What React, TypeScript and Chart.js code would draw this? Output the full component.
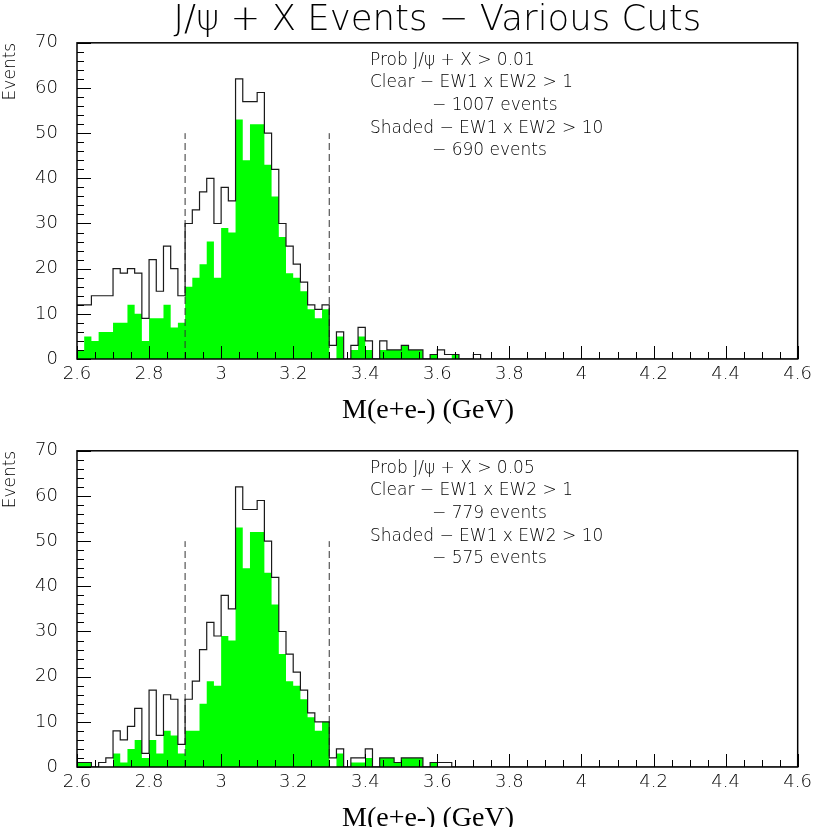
import React, { useEffect, useRef } from 'react';
import { Chart, registerables } from 'chart.js';

Chart.register(...registerables);

// ---- Data -------------------------------------------------------------
const BIN_START = 2.6;
const BIN_WIDTH = 0.02;
const X_MIN = 2.6;
const X_MAX = 4.6;
const X_LABEL_STEP = 0.2;
const X_MINOR_STEP = 0.05;
const Y_MIN = 0;
const Y_MAX = 70;
const Y_LABEL_STEP = 10;
const Y_MINOR_STEP = 2;
const CUT_LOW = 2.9;
const CUT_HIGH = 3.3;
const CUT_HEIGHT = 50;

const topClear = [
  12, 12, 14, 14, 14, 20, 19, 20, 19, 9,
  22, 15, 25, 20, 14, 30, 33, 37, 40, 30,
  38, 35, 62, 57, 57, 59, 50, 42, 30, 25,
  21, 17, 12, 11, 12, 3, 6, 0, 3, 7,
  4, 0, 4, 2, 2, 3, 2, 2, 0, 1,
  2, 1, 1, 0, 0, 1, 0, 0, 0, 0,
  0, 0, 0, 0, 0, 0, 0, 0, 0, 0,
  0, 0, 0, 0, 0, 0, 0, 0, 0, 0,
  0, 0, 0, 0, 0, 0, 0, 0, 0, 0,
  0, 0, 0, 0, 0, 0, 0, 0, 0, 0,
];
const topShaded = [
  2, 5, 4, 6, 6, 8, 8, 12, 10, 4,
  9, 9, 12, 7, 8, 16, 18, 21, 26, 18,
  29, 28, 53, 44, 52, 52, 43, 36, 27, 19,
  18, 15, 11, 9, 11, 0, 5, 0, 2, 5,
  2, 0, 2, 2, 2, 3, 2, 2, 0, 1,
  0, 0, 1, 0, 0, 0, 0, 0, 0, 0,
  0, 0, 0, 0, 0, 0, 0, 0, 0, 0,
  0, 0, 0, 0, 0, 0, 0, 0, 0, 0,
  0, 0, 0, 0, 0, 0, 0, 0, 0, 0,
  0, 0, 0, 0, 0, 0, 0, 0, 0, 0,
];
const bottomClear = [
  1, 1, 0, 1, 2, 8, 6, 9, 13, 3,
  17, 7, 16, 15, 5, 15, 19, 26, 32, 29,
  38, 35, 62, 57, 57, 59, 50, 42, 30, 25,
  21, 17, 12, 10, 10, 2, 4, 0, 2, 2,
  4, 0, 2, 2, 1, 2, 2, 2, 0, 1,
  1, 1, 0, 0, 0, 0, 0, 0, 0, 0,
  0, 0, 0, 0, 0, 0, 0, 0, 0, 0,
  0, 0, 0, 0, 0, 0, 0, 0, 0, 0,
  0, 0, 0, 0, 0, 0, 0, 0, 0, 0,
  0, 0, 0, 0, 0, 0, 0, 0, 0, 0,
];
const bottomShaded = [
  1, 1, 0, 0, 0, 3, 1, 4, 6, 2,
  6, 3, 8, 7, 3, 8, 8, 14, 19, 18,
  29, 28, 53, 44, 52, 52, 43, 36, 25, 19,
  18, 15, 11, 8, 10, 0, 3, 0, 1, 1,
  2, 0, 2, 2, 1, 2, 2, 2, 0, 1,
  0, 0, 0, 0, 0, 0, 0, 0, 0, 0,
  0, 0, 0, 0, 0, 0, 0, 0, 0, 0,
  0, 0, 0, 0, 0, 0, 0, 0, 0, 0,
  0, 0, 0, 0, 0, 0, 0, 0, 0, 0,
  0, 0, 0, 0, 0, 0, 0, 0, 0, 0,
];

const TITLE = 'J/\u03c8 + X Events \u2212 Various Cuts';
const X_TITLE = 'M(e+e-) (GeV)';
const Y_TITLE = 'Events';
const topNotes = [
  'Prob J/\u03c8 + X > 0.01',
  'Clear \u2212 EW1 x EW2 > 1',
  '\u2212 1007 events',
  'Shaded \u2212 EW1 x EW2 > 10',
  '\u2212 690 events',
];
const bottomNotes = [
  'Prob J/\u03c8 + X > 0.05',
  'Clear \u2212 EW1 x EW2 > 1',
  '\u2212 779 events',
  'Shaded \u2212 EW1 x EW2 > 10',
  '\u2212 575 events',
];

// ---- Styling -----------------------------------------------------------
const FONT = '"DejaVu Sans", sans-serif';
const SERIF = '"Liberation Serif", serif';
const GREEN = '#00ff00';
const INK = '#1a1a1a';
const CANVAS_W = 817;
const CANVAS_H = 430;
const PLOT_OFFSET = 408;

function stepPoints(values: number[]) {
  const pts = values.map((v, i) => ({ x: BIN_START + i * BIN_WIDTH, y: v }));
  pts.push({ x: BIN_START + values.length * BIN_WIDTH, y: 0 });
  return pts;
}

const decorPlugin = {
  id: 'decor',
  afterDatasetsDraw(chart: any, _args: any, opts: any) {
    const { ctx, chartArea: a, scales } = chart;
    const xs = scales.x;
    const ys = scales.y;
    ctx.save();
    ctx.strokeStyle = '#000';
    ctx.lineWidth = 1;
    const nx = Math.round((X_MAX - X_MIN) / X_MINOR_STEP);
    const perMajorX = Math.round(X_LABEL_STEP / X_MINOR_STEP);
    for (let k = 0; k <= nx; k++) {
      const px = Math.round(xs.getPixelForValue(X_MIN + k * X_MINOR_STEP)) + 0.5;
      const len = k % perMajorX === 0 ? 13 : 7;
      ctx.beginPath();
      ctx.moveTo(px, a.bottom);
      ctx.lineTo(px, a.bottom - len);
      ctx.stroke();
    }
    const ny = Math.round((Y_MAX - Y_MIN) / Y_MINOR_STEP);
    const perMajorY = Math.round(Y_LABEL_STEP / Y_MINOR_STEP);
    for (let k = 0; k <= ny; k++) {
      const py = Math.round(ys.getPixelForValue(Y_MIN + k * Y_MINOR_STEP)) + 0.5;
      const len = k % perMajorY === 0 ? 14 : 7;
      ctx.beginPath();
      ctx.moveTo(a.left, py);
      ctx.lineTo(a.left + len, py);
      ctx.stroke();
    }
    ctx.lineWidth = 1.5;
    ctx.strokeRect(a.left, a.top, a.right - a.left, a.bottom - a.top);

    ctx.fillStyle = '#000';
    ctx.font = `200 17px ${FONT}`;
    ctx.textAlign = 'left';
    ctx.textBaseline = 'alphabetic';
    (opts.notes || []).forEach((t: string, i: number) => {
      const indent = t.startsWith('\u2212');
      ctx.fillText(t, a.left + (indent ? 355 : 293), a.top + 22 + 22.6 * i);
    });

    ctx.font = `28px ${SERIF}`;
    ctx.textAlign = 'center';
    ctx.fillText(X_TITLE, a.left + 351, a.bottom + 59);
    ctx.restore();
  },
};

function makeConfig(shaded: number[], clear: number[], notes: string[], withTitle: boolean): any {
  return {
    type: 'line',
    data: {
      datasets: [
        {
          data: stepPoints(shaded),
          stepped: 'before',
          fill: 'origin',
          backgroundColor: GREEN,
          borderColor: 'rgba(0,0,0,0)',
          borderWidth: 0,
          pointRadius: 0,
          order: 3,
        },
        {
          data: stepPoints(clear),
          stepped: 'before',
          fill: false,
          borderColor: INK,
          borderWidth: 1.2,
          pointRadius: 0,
          order: 1,
        },
        {
          data: [{ x: CUT_LOW, y: 0 }, { x: CUT_LOW, y: CUT_HEIGHT }],
          fill: false,
          borderColor: '#333',
          borderWidth: 1,
          borderDash: [7, 4],
          pointRadius: 0,
          order: 2,
        },
        {
          data: [{ x: CUT_HIGH, y: 0 }, { x: CUT_HIGH, y: CUT_HEIGHT }],
          fill: false,
          borderColor: '#333',
          borderWidth: 1,
          borderDash: [7, 4],
          pointRadius: 0,
          order: 2,
        },
      ],
    },
    options: {
      responsive: false,
      animation: false,
      events: [],
      devicePixelRatio: 1,
      layout: { padding: { left: 0, right: 16, top: withTitle ? 0 : 42.8, bottom: 0 } },
      plugins: {
        legend: { display: false },
        tooltip: { enabled: false },
        title: {
          display: withTitle,
          text: TITLE,
          fullSize: false,
          color: '#000',
          font: { family: FONT, size: 35.5, weight: 200, lineHeight: 1.15 },
          padding: { top: 0, bottom: 2 },
        },
        decor: { notes },
      },
      scales: {
        x: {
          type: 'linear',
          min: X_MIN,
          max: X_MAX,
          grid: { display: false, drawTicks: false },
          border: { display: false },
          ticks: {
            stepSize: X_LABEL_STEP,
            color: '#000',
            padding: 5,
            maxRotation: 0,
            autoSkip: false,
            font: { family: FONT, size: 18, weight: 200 },
            callback: (v: number) => String(Math.round(v * 10) / 10),
          },
          afterFit: (s: any) => { s.height = CANVAS_H - 359; },
        },
        y: {
          type: 'linear',
          min: Y_MIN,
          max: Y_MAX,
          grid: { display: false, drawTicks: false },
          border: { display: false },
          ticks: {
            stepSize: Y_LABEL_STEP,
            color: '#000',
            padding: 19,
            font: { family: FONT, size: 18, weight: 200 },
          },
          title: {
            display: true,
            text: Y_TITLE,
            align: 'end',
            color: '#000',
            padding: 0,
            font: { family: FONT, size: 17, weight: 200 },
          },
          afterFit: (s: any) => { s.width = 77; },
        },
      },
    },
    plugins: [decorPlugin],
  };
}

function Hist({ shaded, clear, notes, withTitle, top }: any) {
  const ref = useRef<HTMLCanvasElement | null>(null);
  useEffect(() => {
    if (!ref.current) return;
    const chart = new Chart(ref.current, makeConfig(shaded, clear, notes, withTitle));
    return () => chart.destroy();
  }, []);
  return (
    <canvas
      ref={ref}
      width={CANVAS_W}
      height={CANVAS_H}
      style={{ position: 'absolute', left: 0, top, width: CANVAS_W, height: CANVAS_H }}
    />
  );
}

export default function App() {
  return (
    <div
      style={{
        position: 'absolute',
        left: 0,
        top: 0,
        width: 817,
        height: 827,
        overflow: 'hidden',
        background: '#fff',
      }}
    >
      <Hist shaded={topShaded} clear={topClear} notes={topNotes} withTitle={true} top={0} />
      <Hist shaded={bottomShaded} clear={bottomClear} notes={bottomNotes} withTitle={false} top={PLOT_OFFSET} />
    </div>
  );
}
